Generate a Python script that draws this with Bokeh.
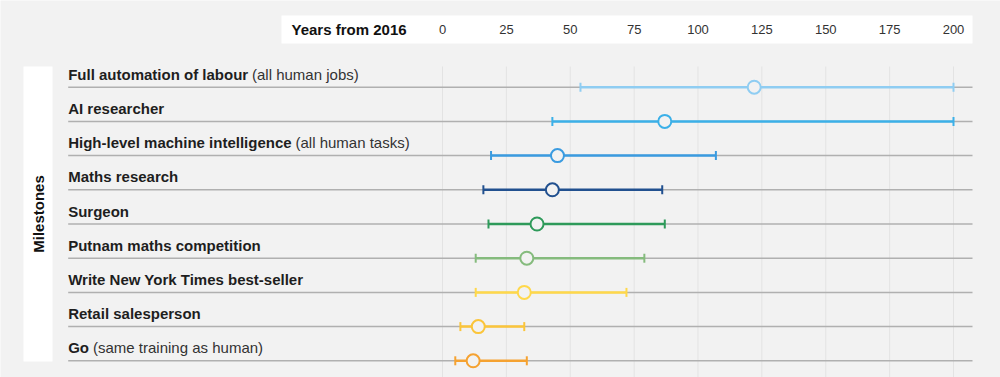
from bokeh.plotting import figure
from bokeh.models import Range1d, ColumnDataSource
from bokeh.core.properties import value
from bokeh.embed import file_html
from bokeh.resources import INLINE

# ---------------- data ----------------
milestones = [
    "Full automation of labour",
    "AI researcher",
    "High-level machine intelligence",
    "Maths research",
    "Surgeon",
    "Putnam maths competition",
    "Write New York Times best-seller",
    "Retail salesperson",
    "Go",
]
notes = ["(all human jobs)", "", "(all human tasks)", "", "", "", "", "", "(same training as human)"]
low = [54, 43, 19, 16, 18, 13, 13, 7, 5]
median = [122, 87, 45, 43, 37, 33, 32, 14, 12]
high = [200, 200, 107, 86, 87, 79, 72, 32, 33]
colors = ["#8fcdf2", "#3bb0e8", "#3a9be0", "#21508f", "#2e9a5a",
          "#85bb7d", "#ffd84a", "#fbc53a", "#f5a231"]
ticks = [0, 25, 50, 75, 100, 125, 150, 175, 200]
tick_labels = ["0", "25", "50", "75", "100", "125", "150", "175", "200"]
axis_title = "Years from 2016"
side_title = "Milestones"

# ---------------- layout helpers (pixel -> data) ----------------
W, H = 1000, 377
PX0, PX_PER_YEAR = 442.0, 2.555
ROW0, ROW_H = 86.7, 34.2


def X(px):
    return (px - PX0) / PX_PER_YEAR


def Y(py):
    return (py - ROW0) / ROW_H


BG = "#f2f2f2"
FONT = value("Liberation Sans")

p = figure(width=W, height=H, output_backend="svg", toolbar_location=None,
           x_range=Range1d(X(0), X(W)), y_range=Range1d(Y(H), Y(0)),
           x_axis_type=None, y_axis_type=None, min_border=0)
p.background_fill_color = BG
p.border_fill_color = BG
p.outline_line_color = None

n = len(milestones)
rows = list(range(n))

# header box with tick labels
p.quad(left=[X(281)], right=[X(972)], top=[Y(15)], bottom=[Y(43)],
       fill_color="white", line_color=None)
p.text(x=[X(291)], y=[Y(28.5)], text=[axis_title], text_font=FONT,
       text_font_size="15px", text_font_style="bold", text_color="#111111",
       text_baseline="middle", text_align="left")
p.text(x=ticks, y=[Y(28.5)] * len(ticks), text=tick_labels, text_font=FONT,
       text_font_size="13px", text_color="#333333",
       text_baseline="middle", text_align="center")

# side box
p.quad(left=[X(23)], right=[X(52)], top=[Y(66)], bottom=[Y(361)],
       fill_color="white", line_color=None)
p.text(x=[X(38)], y=[Y(213.5)], text=[side_title], angle=1.5708, text_font=FONT,
       text_font_size="15px", text_font_style="bold", text_color="#111111",
       text_baseline="middle", text_align="center")

# vertical grid lines
p.segment(x0=ticks, x1=ticks, y0=[Y(66)] * len(ticks), y1=[Y(377)] * len(ticks),
          line_color="#e3e3e3", line_width=1)

# row baselines
p.segment(x0=[X(67.7)] * n, x1=[X(972)] * n, y0=rows, y1=rows,
          line_color="#b0b0b0", line_width=1.5)

# labels
LAB_OFF = 13.0 / ROW_H
p.text(x=[X(67.7)] * n, y=[r - LAB_OFF for r in rows], text=milestones,
       text_font=FONT, text_font_size="15px", text_font_style="bold",
       text_color="#1e1e1e", text_baseline="middle", text_align="left")
note_px = [251.5, 0, 295.0, 0, 0, 0, 0, 0, 92.5]
nx, ny, nt = [], [], []
for r, t, px in zip(rows, notes, note_px):
    if t:
        nx.append(X(px))
        ny.append(r - LAB_OFF)
        nt.append(t)
p.text(x=nx, y=ny, text=nt, text_font=FONT, text_font_size="15px",
       text_color="#333333", text_baseline="middle", text_align="left")

# whiskers
src = ColumnDataSource(dict(row=rows, low=low, median=median, high=high, color=colors,
                            cap_top=[r - 4.5 / ROW_H for r in rows],
                            cap_bot=[r + 4.5 / ROW_H for r in rows]))
p.segment(x0="low", x1="high", y0="row", y1="row", line_color="color",
          line_width=2.5, source=src)
p.segment(x0="low", x1="low", y0="cap_top", y1="cap_bot", line_color="color",
          line_width=2, source=src)
p.segment(x0="high", x1="high", y0="cap_top", y1="cap_bot", line_color="color",
          line_width=2, source=src)
p.scatter(x="median", y="row", size=13, fill_color=BG, line_color="color",
          line_width=2, source=src)

open("out.html", "w").write(file_html(p, INLINE))
